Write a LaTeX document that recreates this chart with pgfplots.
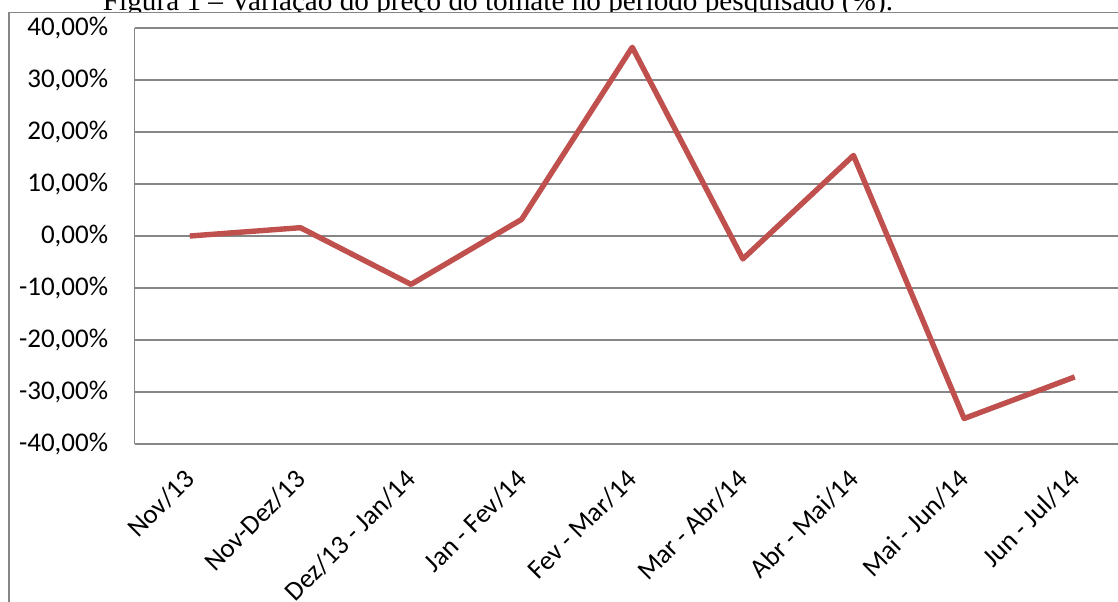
\documentclass[border=0pt]{standalone}
\usepackage{pgfplots}
\pgfplotsset{compat=1.18}
\usepackage{fontspec}
\setmainfont{Carlito}
\newfontfamily\timesfont{Liberation Serif}
\definecolor{linered}{HTML}{C0504D}
\definecolor{gridgray}{HTML}{868686}
\pgfplotstableread{
x y
0 0
1 1.6
2 -9.3
3 3.2
4 36.3
5 -4.4
6 15.5
7 -35.1
8 -27.1
}\datatable
\begin{document}
\begin{tikzpicture}
\path[use as bounding box] (0pt,0pt) rectangle (559pt,-300.5pt);
\node[anchor=base, inner sep=0pt] at (249pt,-5pt) {\resizebox{395pt}{!}{\timesfont Figura 1 – Variação do preço do tomate no período pesquisado (\%).}};
\fill[white] (4.5pt,-6.25pt) rectangle (700pt,-400pt);
\draw[gridgray, line width=0.9pt] (4.5pt,-400pt) -- (4.5pt,-6.25pt) -- (700pt,-6.25pt);
\begin{axis}[
  at={(67.25pt,-222pt)}, anchor=south west,
  scale only axis, width=497.75pt, height=208pt,
  xmin=-0.5, xmax=8.5, ymin=-40, ymax=40,
  axis x line*=bottom, axis y line*=left,
  axis line style={gridgray, line width=0.75pt},
  ymajorgrids, grid style={gridgray, line width=0.75pt},
  major tick length=0pt,
  ytick={-40,-30,-20,-10,0,10,20,30,40},
  yticklabels={{-40,00\%},{-30,00\%},{-20,00\%},{-10,00\%},{0,00\%},{10,00\%},{20,00\%},{30,00\%},{40,00\%}},
  yticklabel style={anchor=east, inner sep=0pt, xshift=-13pt, font=\fontsize{13.5}{16}\selectfont},
  xtick={0,1,2,3,4,5,6,7,8},
  xticklabels={Nov/13, Nov-Dez/13, Dez/13 - Jan/14, Jan - Fev/14, Fev - Mar/14, Mar - Abr/14, Abr - Mai/14, Mai - Jun/14, Jun - Jul/14},
  xticklabel style={anchor=north east, inner sep=0pt, xshift=-3.5pt, yshift=-11.5pt, rotate=45, font=\fontsize{13.5}{16}\selectfont},
]
\addplot[linered, line width=2.7pt, line join=round, mark=none] table[x=x, y=y] {\datatable};
\end{axis}
\end{tikzpicture}
\end{document}
